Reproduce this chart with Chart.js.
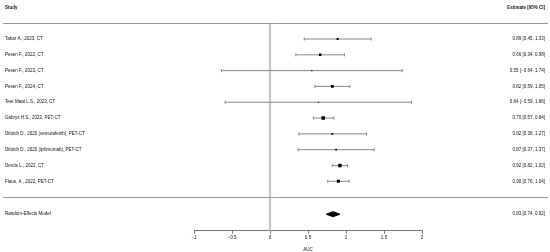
<!DOCTYPE html>
<html>
<head>
<meta charset="utf-8">
<script src="https://cdn.jsdelivr.net/npm/chart.js@4.4.1/dist/chart.umd.min.js"></script>
<style>
html, body { margin: 0; padding: 0; background: #fff; }
</style>
</head>
<body>
<canvas id="forest" width="550" height="252"></canvas>
<script>
// study data
var studies = [
    'Tabar A., 2023, CT',
    'Pesen F., 2022, CT',
    'Pesen F., 2023, CT',
    'Pesen F., 2024, CT',
    'Teer Maat L.S., 2023, CT',
    'Gabryś H.S., 2022, PET-CT',
    'Dittrich D., 2020 (vemurafenib), PET-CT',
    'Dittrich D., 2020 (ipilimumab), PET-CT',
    'Dercle L., 2022, CT',
    'Flaus, A., 2022, PET-CT'
];
var estimates = [0.89, 0.66, 0.55, 0.82, 0.64, 0.70, 0.82, 0.87, 0.92, 0.90];
var lower     = [0.45, 0.34, -0.64, 0.59, -0.59, 0.57, 0.38, 0.37, 0.82, 0.76];
var upper     = [1.33, 0.98, 1.74, 1.05, 1.86, 0.84, 1.27, 1.37, 1.02, 1.04];
var weights   = [8, 11, 1, 14, 1, 19, 7, 5, 18, 16];

var modelLabel = 'Random-Effects Model';
var modelEst = 0.83, modelLower = 0.74, modelUpper = 0.92;

var xTickStep = 0.5;

// row layout (in y units, one unit per study row)
var headerRow = -1.98;
var modelRow = 11.08;
var FONT = '"Liberation Sans", Arial, sans-serif';
var TEXT = '#111';
var GREY = '#888';

function num(v) {
    return (v < 0 ? '\u2212' : '') + Math.abs(v).toFixed(2);
}
function ci(e, l, u) {
    return num(e) + ' [' + num(l) + ', ' + num(u) + ']';
}

var rows = [headerRow].concat(studies.map(function(s, i) { return i; })).concat([modelRow]);
var leftLabels = ['Study'].concat(studies).concat([modelLabel]);
var rightLabels = ['Estimate [95% CI]'].concat(estimates.map(function(e, i) {
    return ci(e, lower[i], upper[i]);
})).concat([ci(modelEst, modelLower, modelUpper)]);

var datasets = [];

// squares, sized by weight
datasets.push({
    type: 'scatter',
    data: estimates.map(function(e, i) { return { x: e, y: i }; }),
    pointStyle: 'rect',
    pointRadius: weights.map(function(w) { return (1 + w * 0.13) / Math.SQRT2; }),
    backgroundColor: '#000',
    borderWidth: 0
});

// summary diamond
datasets.push({
    type: 'line',
    data: [
        { x: modelLower, y: modelRow },
        { x: modelEst, y: modelRow - 0.16 },
        { x: modelUpper, y: modelRow },
        { x: modelEst, y: modelRow + 0.16 },
        { x: modelLower, y: modelRow }
    ],
    borderColor: '#000',
    borderWidth: 1,
    backgroundColor: '#000',
    fill: 'shape',
    pointRadius: 0,
    tension: 0
});

// confidence intervals with end caps
studies.forEach(function(s, i) {
    datasets.push({
        type: 'line',
        data: [{ x: lower[i], y: i }, { x: upper[i], y: i }],
        borderColor: GREY,
        borderWidth: 1,
        pointStyle: 'line',
        pointRotation: 90,
        pointRadius: 1.6,
        pointBorderColor: GREY,
        pointBorderWidth: 1
    });
});

// reference line at zero
datasets.push({
    type: 'line',
    data: [{ x: 0, y: -1 }, { x: 0, y: 12.12 }],
    borderColor: '#bbb',
    borderWidth: 1,
    pointRadius: 0
});

var rules = {
    id: 'rules',
    afterDraw: function(chart) {
        var y = chart.scales.y;
        var ctx = chart.ctx;
        ctx.save();
        ctx.strokeStyle = '#999';
        ctx.lineWidth = 1;
        [-1, 10].forEach(function(r) {
            var py = Math.round(y.getPixelForValue(r)) + 0.5;
            ctx.beginPath();
            ctx.moveTo(3, py);
            ctx.lineTo(chart.width - 2, py);
            ctx.stroke();
        });
        ctx.restore();
    }
};

function rowAxis(position, labels, width) {
    return {
        type: 'linear',
        position: position,
        reverse: true,
        min: -2.106,
        max: 12.125,
        afterBuildTicks: function(scale) {
            scale.ticks = rows.map(function(v) { return { value: v }; });
        },
        afterFit: function(scale) { scale.width = width; },
        grid: { display: false },
        border: { display: false },
        ticks: {
            autoSkip: false,
            crossAlign: 'far',
            color: TEXT,
            font: function(c) {
                return { family: FONT, size: 4.5, weight: c.index === 0 ? 'bold' : 'normal' };
            },
            callback: function(v, i) { return labels[i]; }
        }
    };
}

new Chart(document.getElementById('forest'), {
    type: 'scatter',
    data: { datasets: datasets },
    options: {
        responsive: false,
        animation: false,
        layout: { padding: { top: 3, left: 5, right: 5, bottom: 0 } },
        plugins: { legend: { display: false }, tooltip: { enabled: false } },
        scales: {
            x: {
                type: 'linear',
                min: -1,
                max: 2,
                afterFit: function(scale) { scale.height = 21.3; },
                grid: { drawOnChartArea: false, drawTicks: true, tickLength: 3, color: '#777' },
                border: { color: '#777' },
                ticks: {
                    stepSize: xTickStep,
                    autoSkip: false,
                    maxRotation: 0,
                    padding: 1,
                    color: TEXT,
                    font: { family: FONT, size: 4.5 },
                    callback: function(v) { return (v < 0 ? '\u2212' : '') + Math.abs(v); }
                },
                title: {
                    display: true,
                    text: 'AUC',
                    color: TEXT,
                    font: { family: FONT, size: 4.5 },
                    padding: { top: 1, bottom: 0 }
                }
            },
            y: rowAxis('left', leftLabels, 189),
            y2: rowAxis('right', rightLabels, 123)
        }
    },
    plugins: [rules]
});
</script>
</body>
</html>
